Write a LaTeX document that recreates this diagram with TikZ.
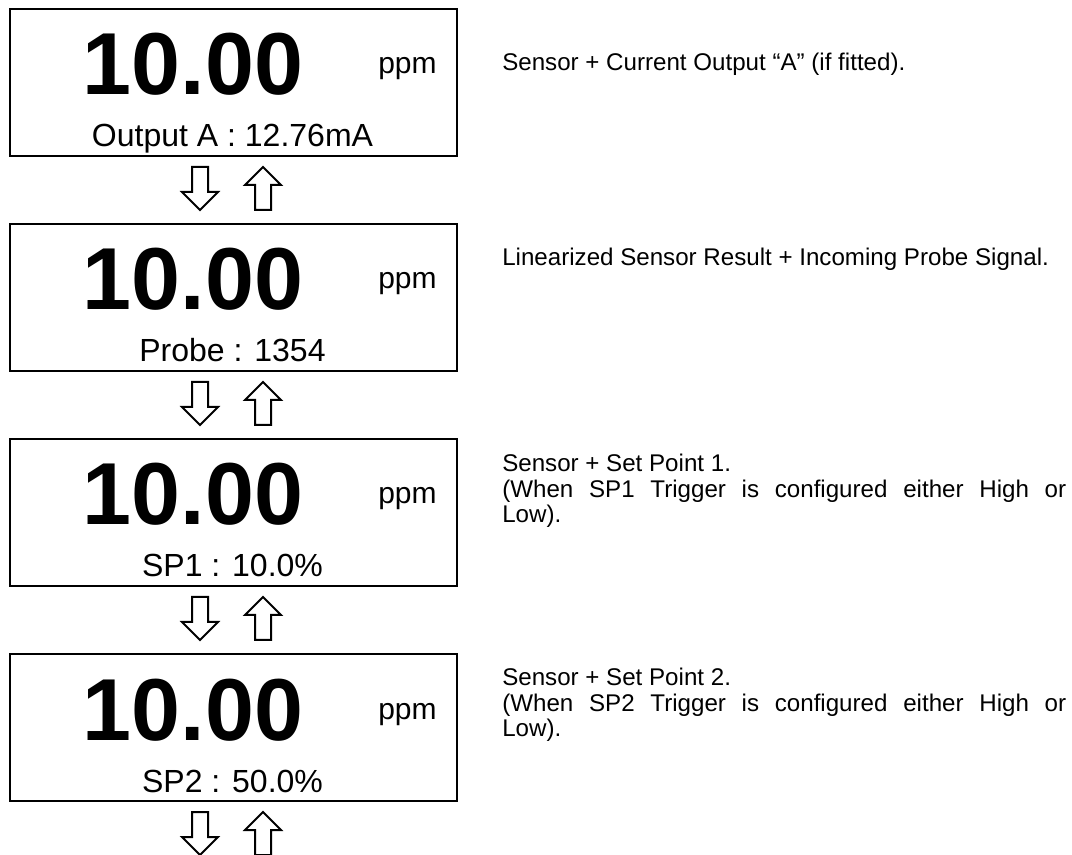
\documentclass[tikz,border=0pt]{standalone}
\usepackage{fontspec}
\setmainfont{Liberation Sans}
\usetikzlibrary{positioning}

\begin{document}
\begin{tikzpicture}[
  x=0.75pt, y=-0.75pt,
  display/.style={
    rectangle, draw, line width=1.5pt,
    minimum width=335.25pt, minimum height=110.25pt,
    anchor=north west, inner sep=0pt
  },
  reading/.style={font=\fontsize{66}{66}\selectfont\bfseries, anchor=base, inner sep=0pt},
  unit/.style={font=\fontsize{22.5}{24}\selectfont, anchor=base west, inner sep=0pt},
  subline/.style={font=\fontsize{24}{26}\selectfont, anchor=base, inner sep=0pt},
  note/.style={
    font=\fontsize{18.1}{18.8}\selectfont, anchor=base west, inner sep=0pt,
    text width=423pt, align=justify
  },
  updown/.style={line width=1.5pt, line join=miter},
]
\useasboundingbox (0,0) rectangle (1072,855);

% Display 1 : current output
\node[display] (disp1) at (9,8) {};
\node[reading] (val1) at (193,95) {10.00};
\node[unit] (unit1) at (378,74) {ppm};
\node[subline] (sub1) at (232.5,147) {Output A : 12.76mA};
\node[note] (note1) at (502,71) {Sensor + Current Output “A” (if fitted).};

% Display 2 : probe signal
\node[display] (disp2) at (9,223) {};
\node[reading] (val2) at (193,310) {10.00};
\node[unit] (unit2) at (378,289) {ppm};
\node[subline] (sub2) at (232.5,362) {Probe : 1354};
\node[note] (note2) at (502,266) {Linearized Sensor Result + Incoming Probe Signal.};

% Display 3 : set point 1
\node[display] (disp3) at (9,438) {};
\node[reading] (val3) at (193,525) {10.00};
\node[unit] (unit3) at (378,504) {ppm};
\node[subline] (sub3) at (232.5,577) {SP1 : 10.0\%};
\node[note] (note3) at (502,472) {Sensor + Set Point 1.\\
  (When SP1 Trigger is configured either High or\linebreak Low).};

% Display 4 : set point 2
\node[display] (disp4) at (9,653) {};
\node[reading] (val4) at (193,740) {10.00};
\node[unit] (unit4) at (378,719) {ppm};
\node[subline] (sub4) at (232.5,792) {SP2 : 50.0\%};
\node[note] (note4) at (502,686) {Sensor + Set Point 2.\\
  (When SP2 Trigger is configured either High or\linebreak Low).};

% down / up keys under each display
\foreach \dy in {0,215,430,645}{
  \draw[updown, shift={(0,\dy)}] (192,167) -- (208,167) -- (208,192) -- (218,192)
    -- (200,210) -- (182,192) -- (192,192) -- cycle;
  \draw[updown, shift={(0,\dy)}] (255,210) -- (271,210) -- (271,185) -- (281,185)
    -- (263,167) -- (245,185) -- (255,185) -- cycle;
}

\end{tikzpicture}
\end{document}
